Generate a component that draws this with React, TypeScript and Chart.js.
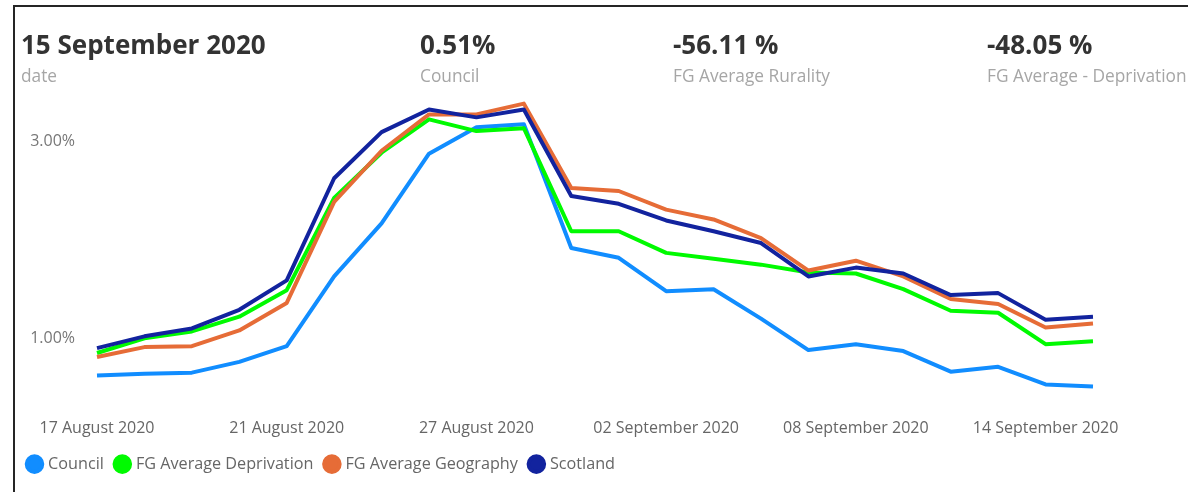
import React, { useEffect, useRef } from 'react';
import { Chart, registerables } from 'chart.js';

Chart.register(...registerables);

const dates = [
  '17 August 2020', '18 August 2020', '19 August 2020', '20 August 2020', '21 August 2020',
  '24 August 2020', '25 August 2020', '26 August 2020', '27 August 2020', '28 August 2020',
  '31 August 2020', '01 September 2020', '02 September 2020', '03 September 2020', '04 September 2020',
  '07 September 2020', '08 September 2020', '09 September 2020', '10 September 2020', '11 September 2020',
  '14 September 2020', '15 September 2020',
];

const council = [0.62, 0.64, 0.65, 0.76, 0.92, 1.63, 2.17, 2.88, 3.15, 3.18, 1.92, 1.82, 1.48, 1.50, 1.20, 0.88, 0.94, 0.87, 0.66, 0.71, 0.53, 0.51];
const deprivation = [0.85, 1.00, 1.07, 1.22, 1.49, 2.43, 2.89, 3.23, 3.11, 3.14, 2.09, 2.09, 1.87, 1.81, 1.75, 1.67, 1.66, 1.50, 1.28, 1.26, 0.94, 0.97];
const geography = [0.81, 0.91, 0.92, 1.08, 1.36, 2.39, 2.91, 3.28, 3.28, 3.39, 2.53, 2.50, 2.31, 2.21, 2.02, 1.69, 1.79, 1.63, 1.40, 1.35, 1.11, 1.15];
const scotland = [0.90, 1.02, 1.10, 1.29, 1.59, 2.63, 3.10, 3.33, 3.25, 3.33, 2.45, 2.37, 2.20, 2.09, 1.97, 1.63, 1.72, 1.66, 1.44, 1.46, 1.19, 1.22];

const seriesNames = ['Council', 'FG Average Deprivation', 'FG Average Geography', 'Scotland'];
const seriesColors = ['#118DFF', '#00FA00', '#E66C37', '#12239E'];

const yTicks = [1, 3];
const xLabelEvery = 4;

const kpiValues = ['15 September 2020', '0.51%', '-56.11 %', '-48.05 %'];
const kpiLabels = ['date', 'Council', 'FG Average Rurality', 'FG Average - Deprivation'];
const kpiLeft = [21, 420, 673, 987];

const FONT = "'Open Sans', 'Noto Sans', sans-serif";

export default function App() {
  const ref = useRef<HTMLCanvasElement>(null);

  useEffect(() => {
    const values = [council, deprivation, geography, scotland];
    const chart = new Chart(ref.current!, {
      type: 'line',
      data: {
        labels: dates,
        datasets: values.map((d, i) => ({
          label: seriesNames[i],
          data: d,
          borderColor: seriesColors[i],
          backgroundColor: seriesColors[i],
          borderWidth: 4,
          pointRadius: 0,
          pointHoverRadius: 0,
          tension: 0,
          borderJoinStyle: 'round' as const,
          borderCapStyle: 'butt' as const,
          order: values.length - i,
        })),
      },
      options: {
        animation: false,
        responsive: false,
        maintainAspectRatio: false,
        layout: { padding: { left: 16, right: 95, top: 83, bottom: 9.8 } },
        plugins: {
          legend: {
            position: 'bottom',
            align: 'start',
            labels: {
              usePointStyle: true,
              pointStyle: 'circle',
              boxWidth: 11,
              boxHeight: 11,
              padding: 13,
              color: '#666666',
              font: { family: FONT, size: 16.2 },
              sort: (a: any, b: any) => a.datasetIndex - b.datasetIndex,
            },
          },
          tooltip: { enabled: false },
        },
        scales: {
          x: {
            grid: { display: false, drawTicks: false },
            border: { display: false },
            ticks: {
              autoSkip: false,
              maxRotation: 0,
              minRotation: 0,
              padding: 22,
              color: '#666666',
              font: { family: FONT, size: 16 },
              callback: (_v: any, i: number) => (i % xLabelEvery === 0 ? dates[i] : null),
            },
            afterFit: (s: any) => { s.height = 45.8; },
          },
          y: {
            min: 0.4,
            max: 3.6,
            grid: { display: false, drawTicks: false },
            border: { display: false },
            afterBuildTicks: (s: any) => { s.ticks = yTicks.map((v) => ({ value: v })); },
            ticks: {
              padding: 22,
              color: '#777777',
              font: { family: FONT, size: 16 },
              callback: (v: any) => Number(v).toFixed(2) + '%',
            },
            afterFit: (s: any) => { s.width = 81; },
          },
        },
      },
    });
    return () => chart.destroy();
  }, []);

  return (
    <div style={{ position: 'fixed', left: 0, top: 0, width: 1188, height: 492, overflow: 'hidden', background: '#ffffff' }}>
      <div style={{ position: 'absolute', left: 13, top: 5, width: 1400, height: 700, borderTop: '2px solid #252525', borderLeft: '2px solid #252525' }} />
      <canvas ref={ref} width={1188} height={492} style={{ position: 'absolute', left: 0, top: 0, display: 'block' }} />
      {kpiValues.map((v, i) => (
        <React.Fragment key={i}>
          <div style={{ position: 'absolute', left: kpiLeft[i], top: 31, fontFamily: FONT, fontWeight: 700, fontSize: 26, lineHeight: '26px', color: '#333333', whiteSpace: 'nowrap' }}>{v}</div>
          <div style={{ position: 'absolute', left: kpiLeft[i], top: 67, fontFamily: FONT, fontWeight: 400, fontSize: 17.3, lineHeight: '17px', color: '#a6a6a6', whiteSpace: 'nowrap' }}>{kpiLabels[i]}</div>
        </React.Fragment>
      ))}
    </div>
  );
}
